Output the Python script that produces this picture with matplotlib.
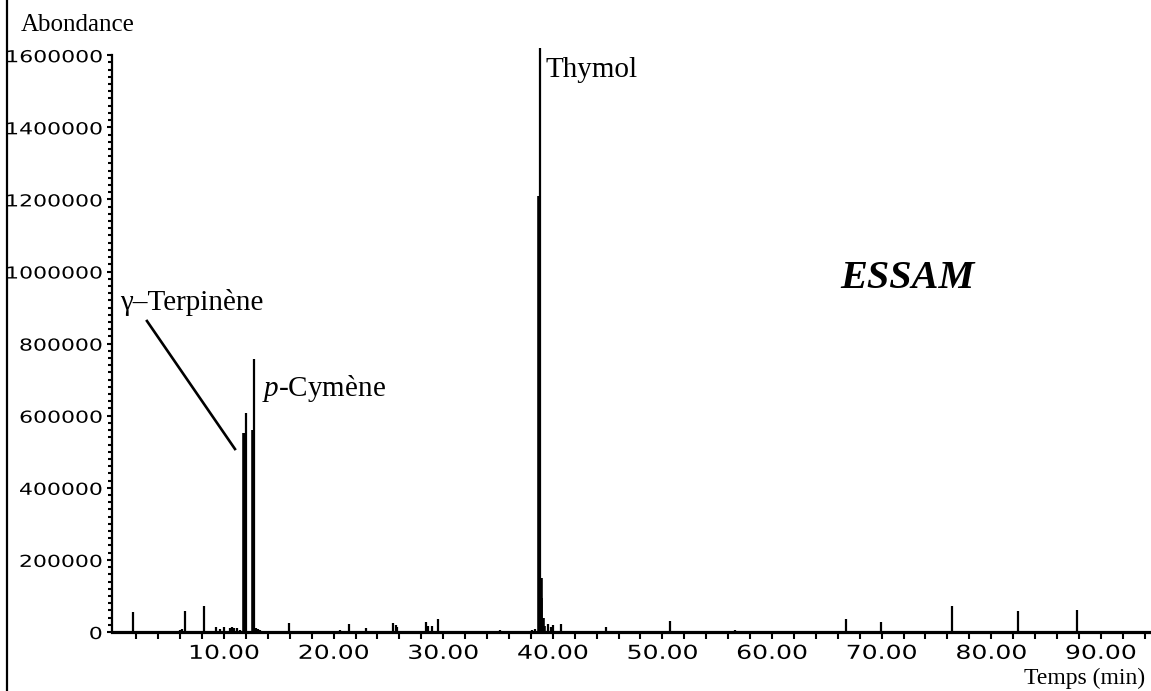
import matplotlib
matplotlib.use("Agg")
import matplotlib.pyplot as plt
from matplotlib.patheffects import AbstractPathEffect
from matplotlib.transforms import Affine2D
from matplotlib.lines import Line2D
from matplotlib.ticker import FixedLocator

# ---------------- data ----------------
# small peaks: retention time (min) and abundance
minor_times = [1.67, 6.0, 6.2, 6.47, 8.17, 9.27, 9.6, 10.0, 10.55, 10.75, 10.95, 11.2,
               11.5, 12.95, 13.1, 13.3, 15.96, 18.76, 20.6, 21.4, 23.0, 23.5, 25.45,
               25.65, 25.8, 27.2, 28.4, 28.65, 28.95, 29.5, 30.0, 35.2, 38.07, 38.38,
               39.6, 39.8, 40.05, 40.75, 44.83, 50.7, 56.6, 61.8, 62.7, 66.75, 69.95,
               76.45, 82.4, 87.8, 93.2]
minor_heights = [55000, 5000, 7000, 58000, 72000, 15000, 8000, 15000, 11000, 13000, 10000,
                 12000, 6000, 12000, 8000, 5000, 26000, 3000, 5000, 22000, 11000, 4000,
                 24000, 20000, 14000, 3000, 27000, 18000, 17500, 36000, 4000, 5000, 6000,
                 9000, 21000, 15000, 20000, 21000, 15000, 31000, 5000, 4000, 2000, 35000,
                 27000, 72000, 58000, 61000, 3000]
# major peaks (broad base part and thin apex part)
major_base_times = [11.82, 12.64, 38.70, 38.88, 38.96, 39.06, 39.20]
major_base_heights = [552000, 560000, 1210000, 150000, 95000, 40000, 18000]
major_apex_times = [11.97, 12.76, 38.83]
major_apex_heights = [607000, 757000, 1619000]

y_major = list(range(0, 1600001, 200000))
y_minor = [v for v in range(0, 1600001, 20000) if v % 200000]
y_labels = [str(v) for v in y_major]
x_major = [10, 20, 30, 40, 50, 60, 70, 80, 90]
x_minor = [v for v in range(0, 95, 2) if v % 10]
x_labels = ["%.2f" % v for v in x_major]

# ---------------- helpers ----------------
W, H = 1151, 691


class HStretch(AbstractPathEffect):
    """Stretch a text path horizontally around an anchor."""

    def __init__(self, sx, anchor="center"):
        super().__init__()
        self.sx = sx
        self.anchor = anchor

    def draw_path(self, renderer, gc, tpath, affine, rgbFace=None):
        ext = tpath.get_extents()
        if self.anchor == "right":
            x0 = ext.x1
        elif self.anchor == "left":
            x0 = ext.x0
        else:
            x0 = 0.5 * (ext.x0 + ext.x1)
        t = Affine2D().translate(-x0, 0).scale(self.sx, 1).translate(x0, 0) + affine
        renderer.draw_path(gc, tpath, t, rgbFace)


def fx(px):
    return px / W


def fy(py):
    return 1 - py / H


plt.rcParams["mathtext.fontset"] = "custom"
plt.rcParams["mathtext.rm"] = "Liberation Serif"
plt.rcParams["mathtext.it"] = "Liberation Serif:italic"

fig = plt.figure(figsize=(W / 100, H / 100), dpi=100)
fig.patch.set_facecolor("white")

# axes geometry (pixel-derived)
ax_left, ax_right = 112, 1151
ax_bottom, ax_top = 632, 37.2
ax = fig.add_axes([fx(ax_left), fy(ax_bottom), (ax_right - ax_left) / W,
                   (ax_bottom - ax_top) / H])
ax.set_xlim(-0.22, 94.58)
ax.set_ylim(0, 1650000)

ax.vlines(minor_times, 0, minor_heights, color="black", lw=1.6)
ax.vlines(major_base_times, 0, major_base_heights, color="black", lw=2.6)
ax.vlines(major_apex_times, 0, major_apex_heights, color="black", lw=1.6)

for s in ["top", "right"]:
    ax.spines[s].set_visible(False)
ax.spines["left"].set_bounds(0, 1600000)
ax.spines["left"].set_linewidth(1.6)
ax.spines["bottom"].set_linewidth(2.3)

ax.yaxis.set_major_locator(FixedLocator(y_major))
ax.yaxis.set_minor_locator(FixedLocator(y_minor))
ax.set_yticklabels(y_labels)
ax.xaxis.set_major_locator(FixedLocator(x_major))
ax.xaxis.set_minor_locator(FixedLocator(x_minor))
ax.set_xticklabels(x_labels)

ax.tick_params(axis="y", which="major", direction="out", length=3.4, width=1.5,
               pad=3.5, labelsize=11.9)
ax.tick_params(axis="y", which="minor", direction="out", length=2.8, width=1.5)
ax.tick_params(axis="x", which="both", direction="out", length=5.0, width=1.5,
               pad=3.5, labelsize=13.8)
for lbl in ax.get_yticklabels():
    lbl.set_family("DejaVu Sans")
    lbl.set_path_effects([HStretch(1.33, "right")])
for lbl in ax.get_xticklabels():
    lbl.set_family("DejaVu Sans")
    lbl.set_path_effects([HStretch(1.31, "center")])

serif = "Liberation Serif"
# axis titles
fig.text(fx(21), fy(31), "Abondance", family=serif, fontsize=18,
         ha="left", va="baseline")
fig.text(fx(1145), fy(684), "Temps (min)", family=serif, fontsize=17,
         ha="right", va="baseline")

# peak annotations
fig.text(fx(546), fy(77), "Thymol", family=serif, fontsize=21,
         ha="left", va="baseline")
fig.text(fx(840), fy(288), "ESSAM", family=serif, fontsize=29,
         fontweight="bold", fontstyle="italic", ha="left", va="baseline")
fig.text(fx(120), fy(310), "γ–Terpinène", family=serif, fontsize=21,
         ha="left", va="baseline")
fig.text(fx(262), fy(396), r"$\mathit{p}$-Cymène", family=serif, fontsize=21,
         ha="left", va="baseline")
ax.plot([2.97, 11.0], [862700, 507600], color="black", lw=1.9)

# left frame line of the image
fig.add_artist(Line2D([fx(7), fx(7)], [0, 1], transform=fig.transFigure,
                      color="black", lw=1.6))

fig.savefig("out.png", dpi=100, facecolor="white")
